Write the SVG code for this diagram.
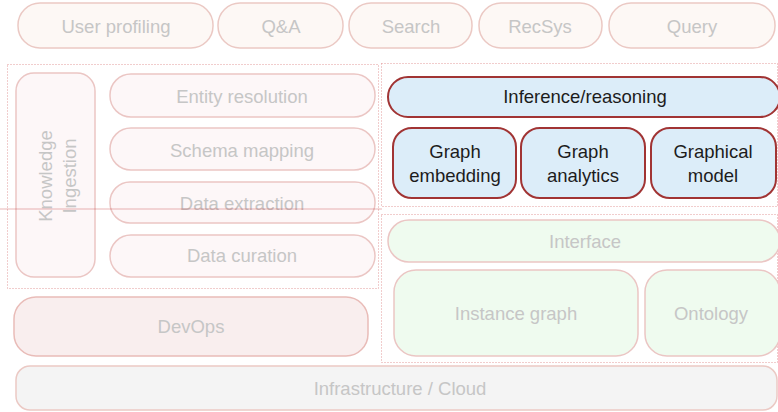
<svg xmlns="http://www.w3.org/2000/svg" width="778" height="412" viewBox="0 0 778 412">
<style>
text{font-family:"Liberation Sans",Arial,sans-serif;font-size:18.5px;text-anchor:middle}
.f{fill:#c6c6c6}
.d{fill:#1c1c1c}
.app{fill:#fdf8f5;stroke:#ebc9c4;stroke-width:1.5}
.ing{fill:#fdf7f8;stroke:#ebc6c4;stroke-width:1.5}
.inf{fill:#dcedf9;stroke:#a13434;stroke-width:2}
.grn{fill:#effbef;stroke:#ebc6c4;stroke-width:1.5}
.dev{fill:#f9eeee;stroke:#e9bcb8;stroke-width:1.5}
.cld{fill:#f4f4f4;stroke:#ebc9c4;stroke-width:1.5}
.dot{fill:none;stroke:#e39a9a;stroke-width:1;stroke-dasharray:1 2}
</style>
<rect width="778" height="412" fill="#fff"/>
<g id="regions">
<rect class="dot" x="7.5" y="64.5" width="371" height="224"/>
<rect class="dot" x="381.5" y="63.5" width="396" height="143"/>
<rect class="dot" x="381.5" y="214.5" width="396" height="148"/>
</g>
<g id="user-profiling"><rect class="app" x="18" y="3" width="195" height="45" rx="22"/><text class="f" x="116" y="33">User profiling</text></g>
<g id="qa"><rect class="app" x="218" y="3" width="125" height="45" rx="22"/><text class="f" x="281" y="33">Q&amp;A</text></g>
<g id="search"><rect class="app" x="349" y="3" width="123" height="45" rx="22"/><text class="f" x="411" y="33">Search</text></g>
<g id="recsys"><rect class="app" x="479" y="3" width="123" height="45" rx="22"/><text class="f" x="540" y="33">RecSys</text></g>
<g id="query"><rect class="app" x="609" y="3" width="166" height="45" rx="22"/><text class="f" x="692" y="33">Query</text></g>
<g id="knowledge-ingestion"><rect class="ing" x="16" y="73" width="79" height="204" rx="18"/><text class="f" transform="translate(52,176) rotate(-90)">Knowledge</text><text class="f" transform="translate(76,176) rotate(-90)">Ingestion</text></g>
<g id="entity-resolution"><rect class="ing" x="110" y="74" width="265" height="43" rx="21"/><text class="f" x="242" y="103">Entity resolution</text></g>
<g id="schema-mapping"><rect class="ing" x="110" y="128" width="265" height="42" rx="21"/><text class="f" x="242" y="157">Schema mapping</text></g>
<g id="data-extraction"><rect class="ing" x="110" y="182" width="265" height="41" rx="20"/><text class="f" x="242" y="210">Data extraction</text></g>
<g id="data-curation"><rect class="ing" x="110" y="235" width="265" height="42" rx="21"/><text class="f" x="242" y="262">Data curation</text></g>
<g id="inference"><rect class="inf" x="388" y="77" width="392" height="40" rx="20"/><text class="d" x="585" y="103">Inference/reasoning</text></g>
<g id="graph-embedding"><rect class="inf" x="393" y="128" width="123" height="70" rx="19"/><text class="d" x="455" y="158">Graph</text><text class="d" x="455" y="182">embedding</text></g>
<g id="graph-analytics"><rect class="inf" x="521" y="128" width="124" height="70" rx="19"/><text class="d" x="583" y="158">Graph</text><text class="d" x="583" y="182">analytics</text></g>
<g id="graphical-model"><rect class="inf" x="651" y="128" width="125" height="70" rx="19"/><text class="d" x="713" y="158">Graphical</text><text class="d" x="713" y="182">model</text></g>
<g id="interface"><rect class="grn" x="388" y="220" width="392" height="42" rx="21"/><text class="f" x="585" y="248">Interface</text></g>
<g id="instance-graph"><rect class="grn" x="394" y="270" width="244" height="86" rx="22"/><text class="f" x="516" y="320">Instance graph</text></g>
<g id="ontology"><rect class="grn" x="645" y="270" width="135" height="86" rx="22"/><text class="f" x="711" y="320">Ontology</text></g>
<g id="devops"><rect class="dev" x="14" y="297" width="354" height="59" rx="22"/><text class="f" x="191" y="333">DevOps</text></g>
<g id="infrastructure"><rect class="cld" x="16" y="366" width="761" height="44" rx="14"/><text class="f" x="400" y="395">Infrastructure / Cloud</text></g>
<g id="connectors"><line x1="0" y1="209" x2="382" y2="209" stroke="#c03030" stroke-width="0.8" stroke-opacity="0.45"/></g>
</svg>
